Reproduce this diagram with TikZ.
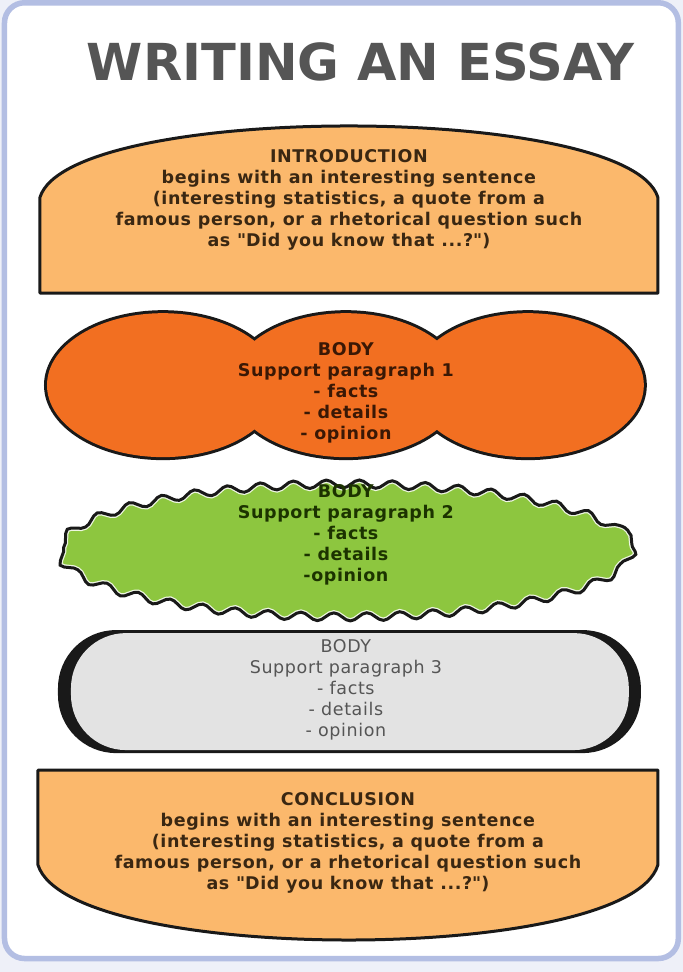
\documentclass[tikz,border=0pt]{standalone}
\usepackage{fontspec}
\setmainfont{DejaVu Sans}[LetterSpace=3.5]
\newfontfamily\titlefont{DejaVu Sans}
\usetikzlibrary{decorations.pathmorphing}

\definecolor{framebg}{HTML}{EEF0F8}
\definecolor{frameblue}{HTML}{B3BEE3}
\definecolor{titlegrey}{HTML}{555555}
\definecolor{lightorange}{HTML}{FBB86C}
\definecolor{deeporange}{HTML}{F26F21}
\definecolor{limegreen}{HTML}{8DC63F}
\definecolor{palegrey}{HTML}{E3E3E3}
\definecolor{browntext}{HTML}{3A2712}
\definecolor{rusttext}{HTML}{3A1805}
\definecolor{greentext}{HTML}{1C3300}
\definecolor{greytext}{HTML}{555555}

\tikzset{
  outline/.style={draw=black!90, line width=3pt, line join=round},
  parabox/.style={align=center, inner sep=0pt, font=\bfseries\fontsize{17.5}{21}\selectfont},
  wavy/.style={decorate, decoration={snake, segment length=33pt, amplitude=4pt}},
}

\begin{document}
\begin{tikzpicture}[x=1pt,y=-1pt]

% page and frame
\fill[framebg] (0,0) rectangle (683,972);
\draw[frameblue, fill=white, line width=5.5pt, rounded corners=20pt] (4.5,2.5) rectangle (678.5,958.5);

\node[font=\titlefont\bfseries\fontsize{51}{51}\selectfont, text=titlegrey] (title) at (361,61.5) {WRITING AN ESSAY};

% introduction
\draw[outline, fill=lightorange] (40,293) -- (40,197) .. controls (70,102) and (628,102) .. (658,197) -- (658,293) -- cycle;
\node[parabox, text=browntext] (intro) at (349,200) {INTRODUCTION\\begins with an interesting sentence\\(interesting statistics, a quote from a\\famous person, or a rhetorical question such\\as \textquotedbl Did you know that ...?\textquotedbl)};

% body 1: three joined lobes
\foreach \cx in {163,346,528}
  \draw[black!90, line width=6pt] (\cx,385) ellipse [x radius=116, y radius=72];
\foreach \cx in {163,346,528}
  \fill[deeporange] (\cx,385) ellipse [x radius=116, y radius=72];
\node[parabox, text=rusttext] (body1) at (346,393) {BODY\\Support paragraph 1\\- facts\\- details\\- opinion};

% body 2: wavy ellipse
\fill[limegreen, wavy] (346,544) ellipse [x radius=286, y radius=66];
\begin{scope}
  \clip[wavy] (346,544) ellipse [x radius=286, y radius=66];
  \draw[white, line width=5.5pt, opacity=0.85, wavy] (346,544) ellipse [x radius=286, y radius=66];
\end{scope}
\draw[black!90, line width=3pt, wavy] (346,544) ellipse [x radius=286, y radius=66];
\node[parabox, text=greentext] (body2) at (346,535) {BODY\\Support paragraph 2\\- facts\\- details\\-opinion};

% body 3: pill with heavy ends
\fill[black!90, rounded corners=58pt] (58,630) rectangle (641,753);
\fill[palegrey, rounded corners=55pt] (71,633) rectangle (629,750);
\node[parabox, font=\fontsize{17.5}{21}\selectfont, text=greytext] (body3) at (346,690) {BODY\\Support paragraph 3\\- facts\\- details\\- opinion};

% conclusion
\draw[outline, fill=lightorange] (38,770) -- (658,770) -- (658,865) .. controls (628,965) and (70,965) .. (38,865) -- cycle;
\node[parabox, text=browntext] (conclusion) at (348,843) {CONCLUSION\\begins with an interesting sentence\\(interesting statistics, a quote from a\\famous person, or a rhetorical question such\\as \textquotedbl Did you know that ...?\textquotedbl)};

\end{tikzpicture}
\end{document}
